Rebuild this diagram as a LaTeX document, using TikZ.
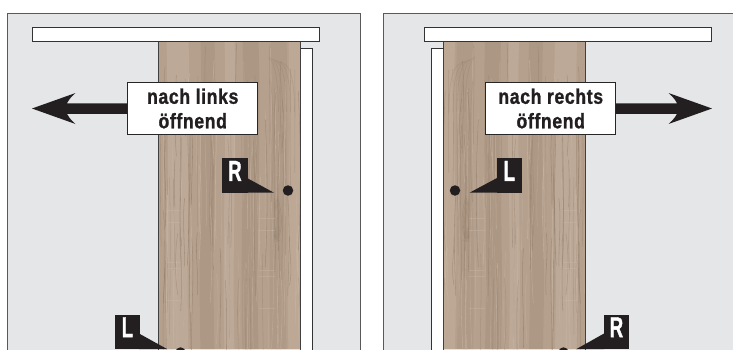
\documentclass[tikz,border=0pt]{standalone}
\usepackage{fontspec}
\setmainfont{Liberation Sans}[FakeStretch=0.84,LetterSpace=3,BoldFeatures={FakeBold=1.2}]
\newfontfamily\tagfont{Liberation Sans}[FakeStretch=0.64,BoldFeatures={FakeBold=1.2}]
\usetikzlibrary{calc}
\definecolor{wallc}{HTML}{E5E6E8}
\definecolor{woodc}{HTML}{B5A08D}
\definecolor{woodd}{HTML}{8F7A67}
\definecolor{woodl}{HTML}{CDBCAA}
\definecolor{inkc}{HTML}{231F20}
\tikzset{
  wall/.style={draw=black!65,line width=.8pt,fill=wallc},
  whitebar/.style={draw=black!80,line width=.8pt,fill=white},
  labelbox/.style={draw=black!85,line width=.8pt,fill=white,minimum width=130pt,minimum height=52pt,inner sep=0pt,align=center,font=\fontsize{21}{24.5}\selectfont\bfseries,text=inkc},
  tag/.style={fill=inkc,text=white,minimum width=25.5pt,inner sep=0pt,text height=22.5pt,text depth=12pt,font=\tagfont\fontsize{29}{29}\selectfont\bfseries},
  knob/.style={circle,fill=inkc,minimum size=10.5pt,inner sep=0pt},
  ink/.style={fill=inkc,draw=none},
}
% door grain in local coordinates, 0..142 wide, handle side on the right
\newcommand{\woodgrain}{%
  \pgfmathsetseed{4217}%
  \fill[woodc] (0,41) rectangle (142,349);
  \foreach \bx/\bw/\bc/\bo in {8/22/woodl/.35,42/14/woodd/.2,66/10/woodl/.35,84/16/woodd/.22,112/16/woodd/.15,130/12/woodl/.3}{
    \fill[\bc,opacity=\bo] (\bx,41) .. controls (\bx+3,140) and (\bx-3,240) .. (\bx,349) -- (\bx+\bw,349) .. controls (\bx+\bw-3,240) and (\bx+\bw+3,140) .. (\bx+\bw,41) -- cycle;
  }
  \foreach \i in {1,...,130}{
    \pgfmathsetmacro{\gx}{rnd*142}
    \pgfmathsetmacro{\gy}{41+rnd*240}
    \pgfmathsetmacro{\gl}{40+rnd*120}
    \pgfmathsetmacro{\ga}{(rnd-.5)*7}
    \pgfmathsetmacro{\gb}{(rnd-.5)*7}
    \pgfmathparse{rnd>.5?"woodd":"woodl"}\edef\gc{\pgfmathresult}
    \pgfmathsetmacro{\go}{.25+rnd*.35}
    \draw[\gc,opacity=\go,line width=.55pt] (\gx,\gy) .. controls (\gx+\ga,\gy+.33*\gl) and (\gx+\gb,\gy+.66*\gl) .. (\gx,\gy+\gl);
  }
  \foreach \r in {4,8,...,20}{
    \draw[woodd,opacity=.28,line width=.6pt] ({116+\r},112) .. controls ({116+\r},80) and ({112+\r},62) .. ({108+\r*.6},{56+\r*.3});
  }
  \foreach \r in {3,6,...,15}{
    \draw[woodd,opacity=.35,line width=.6pt] ({116+\r*.4},{225+\r}) .. controls ({114-\r*.3},{245}) and ({118+\r*.9},{240}) .. ({116+\r*.2},{205-\r*.6});
  }
  \foreach \hy in {210,222,262,268,300}{
    \draw[woodl,opacity=.3,line width=.4pt] (8,\hy) -- (22,\hy);
    \draw[woodl,opacity=.3,line width=.4pt] (100,\hy+8) -- (116,\hy+8);
  }
}
\newcommand{\arrowshape}[1]{% #1 = +1 points right, -1 points left; origin at tip
  \fill[ink,xscale=#1] (0,0) -- (-43.5,-15.5) .. controls (-38,-11) and (-36,-7) .. (-35,-5.25) -- (-96,-5.25) -- (-96,5.25) -- (-35,5.25) .. controls (-36,7) and (-38,11) .. (-43.5,15.5) -- cycle;
}
\begin{document}
\begin{tikzpicture}[x=1pt,y=-1pt]
\useasboundingbox (0,0) rectangle (733,349);
% ---------- left panel
\begin{scope}
\clip (0,0) rectangle (733,349);
\draw[wall] (7,13.5) rectangle (360.5,352);
\begin{scope}
  \clip (158.5,41) rectangle (300.5,349);
  \begin{scope}[shift={(158.5,0)}]\woodgrain\end{scope}
\end{scope}
\draw[black!75,line width=.7pt] (158.5,41) -- (158.5,352) (300.5,41) -- (300.5,352);
\fill[white] (300.9,48.5) rectangle (312.5,352);
\draw[black!80,line width=.8pt] (300.5,48.5) -- (312.5,48.5) -- (312.5,352);
% ---------- right panel
\draw[wall] (383.5,13.5) rectangle (740,352);
\begin{scope}
  \clip (443.5,41) rectangle (585,349);
  \begin{scope}[shift={(585,0)},xscale=-1]\woodgrain\end{scope}
\end{scope}
\draw[black!75,line width=.7pt] (443.5,41) -- (443.5,352) (585,41) -- (585,352);
\fill[white] (431.5,48.5) rectangle (443.1,352);
\draw[black!80,line width=.8pt] (443.5,48.5) -- (431.5,48.5) -- (431.5,352);
\end{scope}
% rails
\node[whitebar,minimum width=287.2pt,minimum height=13.8pt,inner sep=0pt,anchor=north west] (railL) at (32,27) {};
\node[whitebar,minimum width=287.2pt,minimum height=13.8pt,inner sep=0pt,anchor=north west] (railR) at (424,27) {};
% arrows and labels
\coordinate (tipL) at (32,108.5);
\coordinate (tipR) at (712,108.5);
\begin{scope}[shift={(tipL)}]\arrowshape{-1}\end{scope}
\begin{scope}[shift={(tipR)}]\arrowshape{1}\end{scope}
\node[labelbox] (boxL) at (192.75,108.5) {nach links\\öffnend};
\node[labelbox] (boxR) at (550.75,108.5) {nach rechts\\öffnend};
% knobs
\node[knob] (knobR) at (288,190.5) {};
\node[knob] (knobL) at (455,190.5) {};
% tags
\fill[ink] (247,178) -- (274,192.7) -- (247,192.7) -- cycle;
\node[tag,anchor=north west] (tagR) at (222,158.2) {R};
\fill[ink] (497,178) -- (469.5,192.7) -- (497,192.7) -- cycle;
\node[tag,anchor=north west] (tagL) at (496.3,158.2) {L};
\begin{scope}
\clip (0,0) rectangle (733,349);
\fill[ink] (139,333.5) -- (167,349) -- (139,349) -- cycle;
\node[tag,anchor=north west] (tagLb) at (114.5,314.5) {L};
\fill[ink] (604,333.5) -- (576.5,349) -- (604,349) -- cycle;
\node[tag,anchor=north west] (tagRb) at (603.5,314.5) {R};
\node[knob] (knobLb) at (180.5,352.5) {};
\node[knob] (knobRb) at (563.5,352.5) {};
\end{scope}
\end{tikzpicture}
\end{document}
